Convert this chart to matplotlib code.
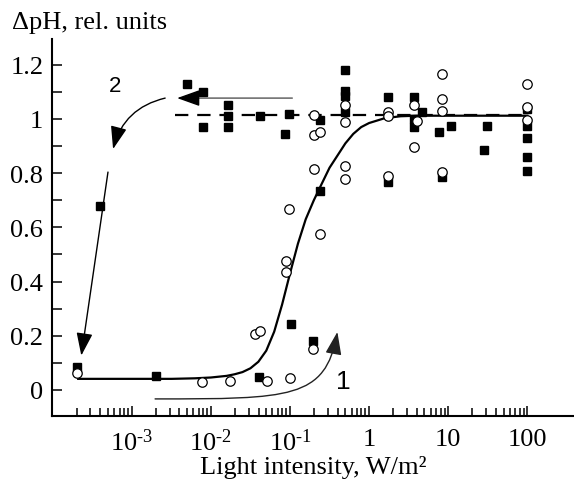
import matplotlib
matplotlib.use('Agg')
import matplotlib.pyplot as plt
from matplotlib.ticker import FixedLocator, NullFormatter
from matplotlib.patches import FancyArrowPatch
from matplotlib.path import Path

plt.rcParams['font.family'] = 'Liberation Serif'
plt.rcParams['mathtext.fontset'] = 'custom'
plt.rcParams['mathtext.rm'] = 'Liberation Serif'
plt.rcParams['mathtext.it'] = 'Liberation Serif:italic'

# open circles
circ_x = [2e-4, 7.8e-3, 0.0172, 0.036, 0.042, 0.051, 0.09, 0.09, 0.099, 0.096,
          0.195, 0.2, 0.2, 0.24, 0.2, 0.24, 0.5, 0.5, 0.5, 0.5,
          1.72, 1.72, 1.72, 3.67, 4.05, 3.67, 8.4, 8.4, 8.4, 8.4,
          100, 100, 100]
circ_y = [0.063, 0.031, 0.034, 0.207, 0.219, 0.034, 0.477, 0.437, 0.043, 0.668,
          0.151, 1.016, 0.942, 0.953, 0.815, 0.576, 1.052, 0.99, 0.828, 0.779,
          1.027, 1.012, 0.788, 1.052, 0.994, 0.896, 1.166, 1.074, 1.031, 0.806,
          1.129, 1.045, 0.997]

# filled squares
sq_x = [2e-4, 4e-4, 2e-3, 5e-3, 7.9e-3, 7.9e-3, 0.0164, 0.0164, 0.0164, 0.04,
        0.042, 0.096, 0.087, 0.102, 0.195, 0.237, 0.237, 0.5, 0.5, 0.5,
        0.5, 1.72, 1.72, 3.67, 3.67, 3.67, 4.69, 7.6, 8.4, 11.0,
        28.2, 30.5, 100, 100, 100, 100, 100]
sq_y = [0.085, 0.68, 0.053, 1.13, 1.098, 0.969, 1.053, 1.012, 0.969, 0.049,
        1.012, 1.02, 0.945, 0.244, 0.182, 0.997, 0.735, 1.182, 1.104, 1.086,
        1.025, 1.08, 0.766, 1.08, 1.0, 0.969, 1.025, 0.951, 0.785, 0.973,
        0.887, 0.973, 1.037, 0.975, 0.929, 0.861, 0.807]

# fitted curve
fit_x = [2.1e-4, 3.2e-3, 6.3e-3, 0.01, 0.0158, 0.02, 0.0251, 0.0316, 0.0398,
         0.0501, 0.0631, 0.0794, 0.1, 0.126, 0.158, 0.2, 0.251, 0.316, 0.398,
         0.501, 0.631, 0.794, 1.0, 1.58, 2.51, 3.98, 100]
fit_y = [0.041, 0.041, 0.043, 0.046, 0.052, 0.058, 0.066, 0.08, 0.104,
         0.145, 0.215, 0.315, 0.43, 0.54, 0.63, 0.70, 0.76, 0.82, 0.865,
         0.91, 0.945, 0.97, 0.985, 1.003, 1.01, 1.012, 1.012]

# dashed level
dash_x = [3.5e-3, 100]
dash_y = [1.015, 1.015]

fig = plt.figure(figsize=(5.74, 4.85), dpi=100)
ax = fig.add_axes([0.090, 0.1408, 0.91, 0.7767])

ax.plot(dash_x, dash_y, color='black', lw=1.6, dashes=(6, 4), zorder=2)
ax.plot(fit_x, fit_y, color='black', lw=1.6, zorder=2)
ax.plot(sq_x, sq_y, ls='none', marker='s', ms=6.3, color='black', zorder=3)
ax.plot(circ_x, circ_y, ls='none', marker='o', ms=6.8, mfc='white', mec='black',
        mew=0.9, zorder=4)

ax.set_xscale('log')
ax.set_xlim(10 ** -4.013, 10 ** 2.59)
ax.set_ylim(-0.095, 1.295)

ax.xaxis.set_major_locator(FixedLocator([1e-3, 1e-2, 1e-1, 1, 10, 100]))
ax.xaxis.set_minor_locator(FixedLocator([m * 10.0 ** e for e in range(-4, 2) for m in range(2, 10)]))
ax.xaxis.set_minor_formatter(NullFormatter())
ax.set_xticklabels([r'$10^{\text{-}3}$', r'$10^{\text{-}2}$', r'$10^{\text{-}1}$', '1', '10', '100'])

ax.yaxis.set_major_locator(FixedLocator([0, 0.2, 0.4, 0.6, 0.8, 1.0, 1.2]))
ax.yaxis.set_minor_locator(FixedLocator([0.1, 0.3, 0.5, 0.7, 0.9, 1.1]))
ax.set_yticklabels(['0', '0.2', '0.4', '0.6', '0.8', '1', '1.2'])

ax.tick_params(axis='both', which='both', direction='in', width=1.1, labelsize=19)
ax.tick_params(axis='x', which='major', length=7, pad=9)
ax.tick_params(axis='x', which='minor', length=5.5)
ax.tick_params(axis='y', which='both', length=7.2, pad=6)

for s in ['top', 'right']:
    ax.spines[s].set_visible(False)
for s in ['left', 'bottom']:
    ax.spines[s].set_linewidth(1.5)

ax.set_xlabel('Light intensity, W/m²', fontsize=19, labelpad=0)
fig.text(12 / 574, 1 - 23 / 485, 'ΔpH, rel. units', fontsize=19, va='center', ha='left')

head = '-|>,head_length=0.7,head_width=0.25'

# arrow 1 (increasing light)
p1 = Path([(1.97e-3, -0.033), (0.101, -0.033), (0.28, -0.033), (0.397, 0.214)],
          [Path.MOVETO, Path.CURVE4, Path.CURVE4, Path.CURVE4])
ax.add_patch(FancyArrowPatch(path=p1, arrowstyle=head,
                             mutation_scale=20, color='#222222', lw=1.0, zorder=5))
ax.text(0.47, 0.034, '1', family='Liberation Sans', fontsize=19, ha='center', va='center')

# arrow 2 (decreasing light)
ax.annotate('', xy=(4.6e-3, 1.077), xytext=(0.107, 1.077),
            arrowprops=dict(arrowstyle='-', color='#555555', lw=1.0, shrinkA=0, shrinkB=0))
ax.annotate('', xy=(3.74e-3, 1.077), xytext=(5.2e-3, 1.077),
            arrowprops=dict(arrowstyle=head, mutation_scale=20, color='black', lw=1.0,
                            shrinkA=0, shrinkB=0))
ax.annotate('', xy=(5.8e-4, 0.889), xytext=(2.64e-3, 1.077),
            arrowprops=dict(arrowstyle=head, mutation_scale=20, color='black', lw=1.0,
                            shrinkA=0, shrinkB=0, connectionstyle='arc3,rad=0.3'))
ax.annotate('', xy=(2.3e-4, 0.127), xytext=(5.0e-4, 0.804),
            arrowprops=dict(arrowstyle=head, mutation_scale=20, color='black', lw=1.0,
                            shrinkA=0, shrinkB=0))
ax.text(6.15e-4, 1.122, '2', family='Liberation Sans', fontsize=16, ha='center', va='center')

fig.savefig('out.png', dpi=100)
